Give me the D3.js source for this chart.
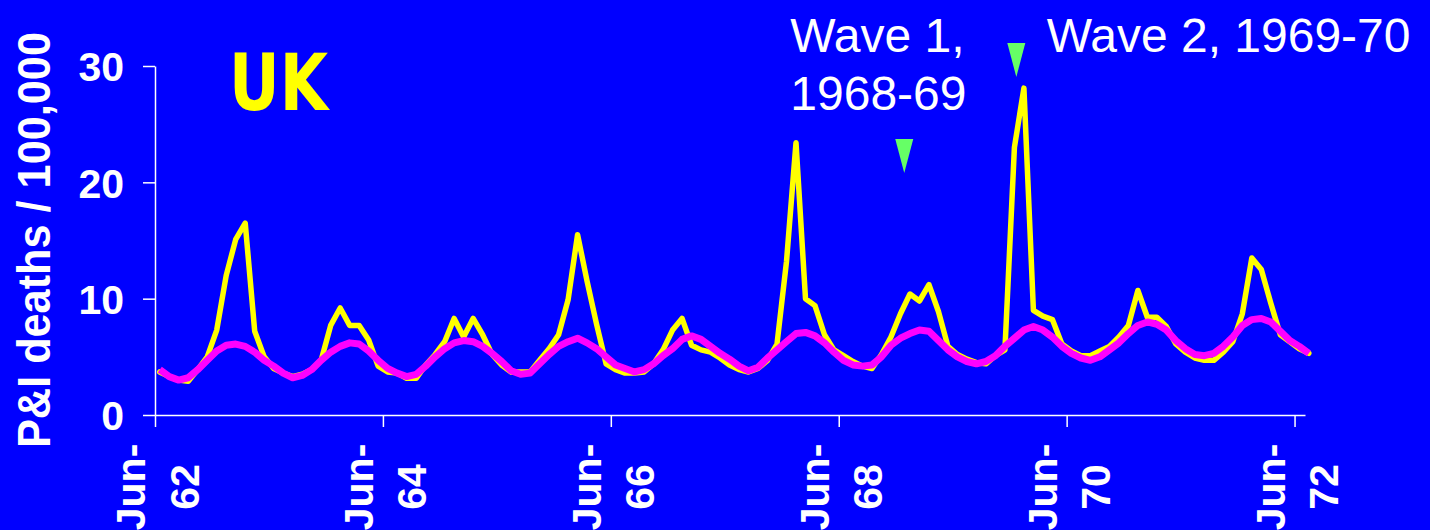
<!DOCTYPE html>
<html>
<head>
<meta charset="utf-8">
<script src="https://cdn.jsdelivr.net/npm/d3@7/dist/d3.min.js"></script>
<style>
  html, body { margin: 0; padding: 0; background: #0000FF; }
  svg { display: block; }
</style>
</head>
<body>
<script>
// ---- data (monthly, starting June 1962) ----
const observed = [
  3.7, 3.3, 3.0, 2.9, 3.9, 5.0, 7.3, 12.0, 15.1, 16.5, 7.2, 5.0,
  4.0, 3.6, 3.3, 3.5, 3.9, 4.7, 7.7, 9.2, 7.7, 7.7, 6.45, 4.2,
  3.7, 3.6, 3.15, 3.15, 4.3, 5.2, 6.3, 8.3, 6.7, 8.3, 6.9, 5.2,
  4.3, 3.7, 3.7, 3.7, 4.7, 5.7, 6.9, 9.9, 15.5, 11.5, 7.8, 4.4,
  3.9, 3.6, 3.6, 3.7, 4.4, 5.6, 7.3, 8.3, 6.0, 5.6, 5.4, 4.9,
  4.3, 3.9, 3.7, 4.0, 4.7, 6.1, 13.2, 23.4, 10.0, 9.4, 6.9, 5.6,
  5.1, 4.6, 4.2, 4.0, 5.2, 6.7, 8.7, 10.4, 9.8, 11.2, 8.9, 5.9,
  5.2, 4.8, 4.5, 4.4, 5.1, 5.6, 23.0, 28.1, 9.0, 8.5, 8.2, 6.1,
  5.5, 5.1, 5.1, 5.5, 5.9, 6.7, 7.7, 10.7, 8.4, 8.4, 7.6, 6.1,
  5.4, 4.9, 4.7, 4.7, 5.4, 6.3, 8.7, 13.5, 12.5, 9.6, 6.9, 6.3,
  5.7, 5.3
];
const baseline = [
  3.9, 3.3, 3.0, 3.2, 3.9, 4.7, 5.5, 6.0, 6.1, 5.9, 5.4, 4.7,
  4.2, 3.6, 3.2, 3.4, 3.9, 4.7, 5.4, 5.9, 6.2, 6.1, 5.5, 4.7,
  4.0, 3.6, 3.3, 3.5, 4.2, 5.0, 5.7, 6.2, 6.4, 6.3, 5.9, 5.3,
  4.6, 3.8, 3.5, 3.6, 4.4, 5.2, 5.9, 6.3, 6.6, 6.2, 5.7, 5.0,
  4.3, 4.0, 3.7, 3.9, 4.4, 5.1, 5.7, 6.5, 6.8, 6.5, 5.9, 5.3,
  4.8, 4.2, 3.8, 4.1, 4.9, 5.6, 6.3, 7.0, 7.1, 6.8, 6.2, 5.4,
  4.7, 4.3, 4.2, 4.3, 5.0, 6.0, 6.6, 7.0, 7.3, 7.2, 6.4, 5.6,
  5.0, 4.6, 4.4, 4.6, 5.1, 5.9, 6.6, 7.3, 7.6, 7.3, 6.7, 5.9,
  5.3, 4.9, 4.7, 5.0, 5.6, 6.2, 7.0, 7.7, 8.0, 7.8, 7.3, 6.4,
  5.7, 5.2, 5.1, 5.3, 5.9, 6.7, 7.7, 8.2, 8.3, 8.0, 7.2, 6.4,
  5.9, 5.3
];
const xTickMonths = [0, 24, 48, 72, 96, 120];
const xTickLabels = [["Jun-", "62"], ["Jun-", "64"], ["Jun-", "66"], ["Jun-", "68"], ["Jun-", "70"], ["Jun-", "72"]];
const yTicks = [0, 10, 20, 30];
const waveMarkers = [ { month: 78.9, value: 20.8 }, { month: 90.7, value: 29.05 } ];
const waveLabelText = ["Wave 1,", "1968-69", "Wave 2, 1969-70"];
const waveLabelMonth = [66.9, 66.9, 93.9];
const waveLabelLine = [0, 1, 0];

// ---- layout ----
const W = 1430, H = 530;
const svg = d3.select("body").append("svg").attr("width", W).attr("height", H);
svg.append("rect").attr("width", W).attr("height", H).attr("fill", "#0000FF");

const x = d3.scaleLinear().domain([0, 121.1]).range([155, 1305]);
const y = d3.scaleLinear().domain([0, 30]).range([415, 66]);

// y axis
const yAxis = svg.append("g").attr("transform", "translate(155,0)")
  .call(d3.axisLeft(y).tickValues(yTicks).tickSize(12).tickSizeOuter(0).tickPadding(19));
yAxis.select(".domain").attr("stroke", "#fff").attr("stroke-width", 1.5);
yAxis.selectAll(".tick line").attr("stroke", "#fff").attr("stroke-width", 1.5);
yAxis.selectAll(".tick text")
  .attr("fill", "#fff").attr("font-family", "'Liberation Sans', Arial, sans-serif")
  .attr("font-weight", "bold").attr("font-size", 41).attr("dy", "0.36em");

// x axis
const xAxis = svg.append("g").attr("transform", "translate(0,415)")
  .call(d3.axisBottom(x).tickValues(xTickMonths).tickSize(12).tickSizeOuter(0).tickFormat(""));
xAxis.select(".domain").attr("stroke", "#fff").attr("stroke-width", 1.5);
xAxis.selectAll(".tick line").attr("stroke", "#fff").attr("stroke-width", 1.5);

const xl = svg.append("g").selectAll("g").data(xTickMonths).join("g")
  .attr("transform", d => `translate(${x(d)},487) rotate(-90)`);
xl.each(function(d, i) {
  const g = d3.select(this);
  xTickLabels[i].forEach((t, j) => {
    g.append("text").text(t)
      .attr("x", 0).attr("y", j === 0 ? -10 : 43.5)
      .attr("text-anchor", "middle")
      .attr("fill", "#fff").attr("font-family", "'Liberation Sans', Arial, sans-serif")
      .attr("font-weight", "bold").attr("font-size", 41);
  });
});

// y title
svg.append("text").text("P&I deaths / 100,000")
  .attr("transform", "translate(50,240) rotate(-90)")
  .attr("text-anchor", "middle")
  .attr("fill", "#fff").attr("font-family", "'Liberation Sans', Arial, sans-serif")
  .attr("font-weight", "bold").attr("font-size", 46)
  .attr("textLength", 416).attr("lengthAdjust", "spacingAndGlyphs");

// lines
const line = d3.line().x((d, i) => x(i + 0.5)).y(d => y(d));
svg.append("path").datum(observed).attr("d", line)
  .attr("fill", "none").attr("stroke", "#FFFF00").attr("stroke-width", 5.5)
  .attr("stroke-linejoin", "round").attr("stroke-linecap", "round");
svg.append("path").datum(baseline).attr("d", line)
  .attr("fill", "none").attr("stroke", "#FF00FF").attr("stroke-width", 7)
  .attr("stroke-linejoin", "round").attr("stroke-linecap", "butt");

// UK title
svg.append("text").text("UK")
  .attr("x", 229).attr("y", 110)
  .attr("fill", "#FFFF00").attr("font-family", "'DejaVu Sans', sans-serif")
  .attr("font-weight", "bold").attr("font-size", 78)
  .attr("textLength", 99).attr("lengthAdjust", "spacingAndGlyphs");

// wave labels
waveLabelText.forEach((t, i) => {
  svg.append("text").text(t)
    .attr("x", x(waveLabelMonth[i])).attr("y", 52 + waveLabelLine[i] * 58)
    .attr("fill", "#fff").attr("font-family", "'Liberation Sans', Arial, sans-serif")
    .attr("font-size", 48);
});

// wave markers (green triangles pointing down)
svg.append("g").selectAll("path").data(waveMarkers).join("path")
  .attr("d", d => {
    const tx = x(d.month), ty = y(d.value);
    return `M${tx - 9},${ty - 34}L${tx + 9},${ty - 34}L${tx},${ty}Z`;
  })
  .attr("fill", "#66FF66");
</script>
</body>
</html>
